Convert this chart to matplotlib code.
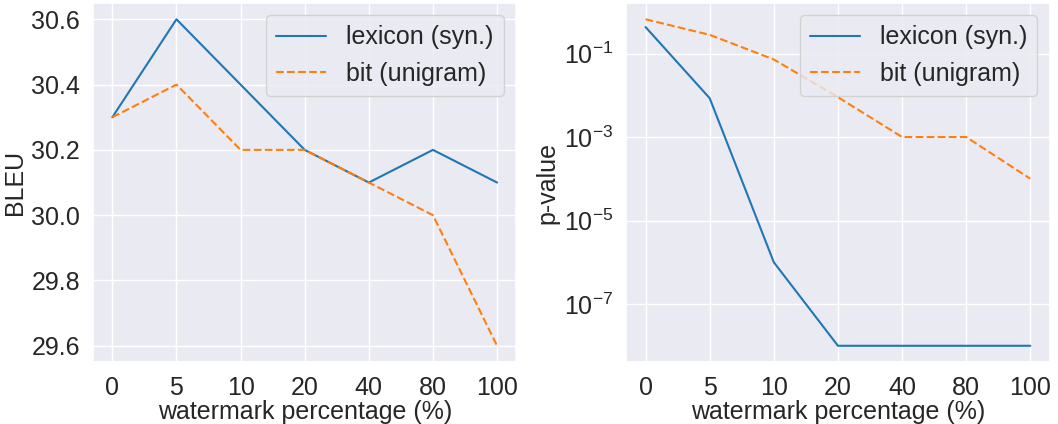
import matplotlib
matplotlib.use("Agg")
import matplotlib.pyplot as plt
import seaborn as sns
import numpy as np

percent_labels = ["0", "5", "10", "20", "40", "80", "100"]
bleu_lexicon = [30.3, 30.6, 30.4, 30.2, 30.1, 30.2, 30.1]
bleu_bit = [30.3, 30.4, 30.2, 30.2, 30.1, 30.0, 29.6]
p_lexicon = [0.43, 0.0085, 1e-6, 1e-8, 1e-8, 1e-8, 1e-8]
p_bit = [0.66, 0.28, 0.072, 0.009, 1e-3, 1e-3, 1e-4]

sns.set_theme(style="darkgrid")
plt.rcParams['font.family'] = ['Liberation Sans', 'DejaVu Sans']

FS = 18
fig, axes = plt.subplots(1, 2, figsize=(10.58, 4.24), dpi=100)
x = np.arange(len(percent_labels))

ax = axes[0]
ax.plot(x, bleu_lexicon, color="#1f77b4", lw=1.5, label="lexicon (syn.)")
ax.plot(x, bleu_bit, color="#ff7f0e", lw=1.5, ls="--", label="bit (unigram)")
ax.set_xticks(x)
ax.set_xticklabels(percent_labels)
ax.set_yticks([29.6, 29.8, 30.0, 30.2, 30.4, 30.6])
ax.set_ylabel("BLEU", fontsize=FS, labelpad=3)
ax.set_xlabel("watermark percentage (%)", fontsize=FS, labelpad=0)
ax.tick_params(labelsize=FS)
ax.tick_params(axis="x", pad=4)
ax.legend(fontsize=FS, loc="upper right")

ax = axes[1]
ax.plot(x, p_lexicon, color="#1f77b4", lw=1.5, label="lexicon (syn.)")
ax.plot(x, p_bit, color="#ff7f0e", lw=1.5, ls="--", label="bit (unigram)")
ax.set_yscale("log")
ax.set_yticks([1e-7, 1e-5, 1e-3, 1e-1])
ax.yaxis.set_minor_locator(matplotlib.ticker.NullLocator())
ax.set_xticks(x)
ax.set_xticklabels(percent_labels)
ax.set_ylabel("p-value", fontsize=FS, labelpad=3)
ax.set_xlabel("watermark percentage (%)", fontsize=FS, labelpad=0)
ax.tick_params(labelsize=FS)
ax.tick_params(axis="x", pad=4)
ax.legend(fontsize=FS, loc="upper right")

fig.subplots_adjust(left=0.088, right=0.992, top=0.993, bottom=0.146, wspace=0.26)
fig.savefig("out.png", dpi=100)
